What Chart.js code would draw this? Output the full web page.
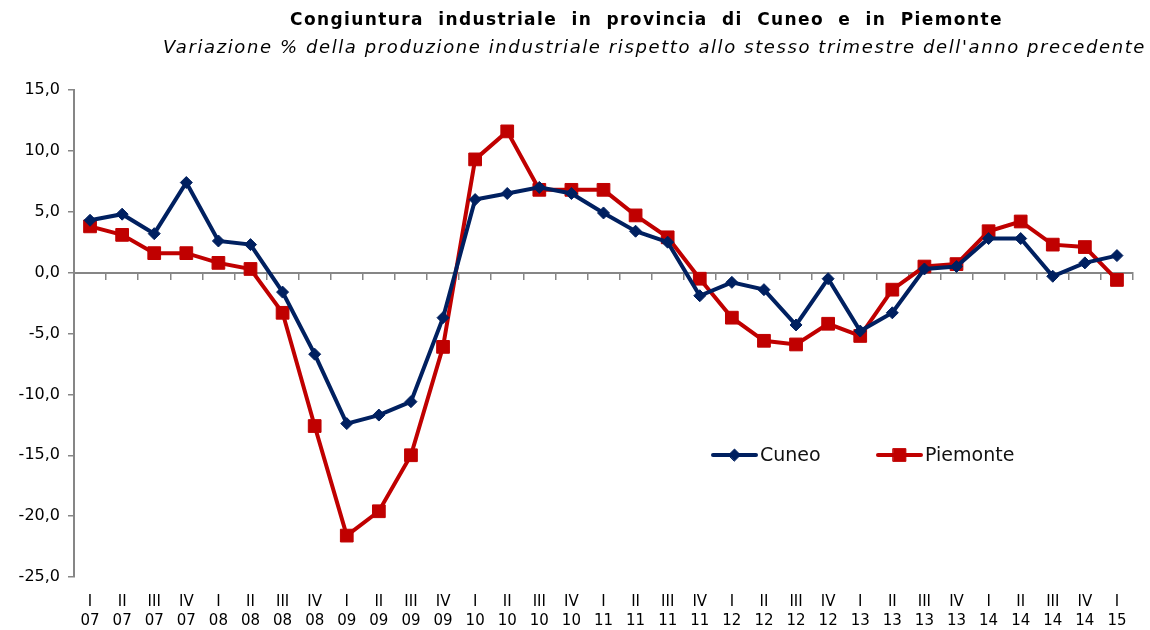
<!DOCTYPE html>
<html>
<head>
<meta charset="utf-8">
<script src="https://cdn.jsdelivr.net/npm/chart.js@4.4.1/dist/chart.umd.min.js"></script>
<style>
  html, body { margin: 0; padding: 0; background: #fff; }
  #wrap { position: relative; width: 1150px; height: 630px; }
  .title {
    position: absolute; left: 290px; top: 9px; white-space: nowrap;
    font: bold 17px "DejaVu Sans", sans-serif; color: #000;
    letter-spacing: 1.4px; word-spacing: 7px;
  }
  .subtitle {
    position: absolute; right: 4px; top: 36px; white-space: nowrap;
    font: italic 18px "DejaVu Sans", sans-serif; color: #000;
    letter-spacing: 1.6px;
  }
</style>
</head>
<body>
<div id="wrap">
  <canvas id="chart" width="1150" height="630"></canvas>
  <div class="title">Congiuntura industriale in provincia di Cuneo e in Piemonte</div>
  <div class="subtitle">Variazione % della produzione industriale rispetto allo stesso trimestre dell'anno precedente</div>
</div>
<script>
// --- dati ---
const quarters = ['I', 'II', 'III', 'IV', 'I', 'II', 'III', 'IV', 'I', 'II', 'III', 'IV',
                  'I', 'II', 'III', 'IV', 'I', 'II', 'III', 'IV', 'I', 'II', 'III', 'IV',
                  'I', 'II', 'III', 'IV', 'I', 'II', 'III', 'IV', 'I'];
const years = ['07', '07', '07', '07', '08', '08', '08', '08', '09', '09', '09', '09',
               '10', '10', '10', '10', '11', '11', '11', '11', '12', '12', '12', '12',
               '13', '13', '13', '13', '14', '14', '14', '14', '15'];

const cuneo = [4.3, 4.8, 3.2, 7.4, 2.6, 2.3, -1.6, -6.7, -12.4, -11.7, -10.6, -3.7,
               6.0, 6.5, 7.0, 6.5, 4.9, 3.4, 2.5, -1.9, -0.8, -1.4, -4.3, -0.5,
               -4.8, -3.3, 0.3, 0.5, 2.8, 2.8, -0.3, 0.8, 1.4];
const piemonte = [3.8, 3.1, 1.6, 1.6, 0.8, 0.3, -3.3, -12.6, -21.6, -19.6, -15.0, -6.1,
                  9.3, 11.6, 6.8, 6.8, 6.8, 4.7, 2.9, -0.5, -3.7, -5.6, -5.9, -4.2,
                  -5.2, -1.4, 0.5, 0.7, 3.4, 4.2, 2.3, 2.1, -0.6];

const yMin = -25, yMax = 15, yStep = 5;

const labels = quarters.map((q, i) => [q, years[i]]);
const axisGrey = '#868686';
const font = '"DejaVu Sans", sans-serif';

// legenda dentro l'area del grafico
const insideLegend = {
  id: 'insideLegend',
  afterDatasetsDraw(chart) {
    const ctx = chart.ctx;
    const y = 455;
    const starts = [713, 878];
    chart.data.datasets.forEach((ds, i) => {
      const x = starts[i];
      ctx.save();
      ctx.strokeStyle = ds.borderColor;
      ctx.fillStyle = ds.backgroundColor;
      ctx.lineWidth = 4;
      ctx.lineCap = 'round';
      ctx.beginPath();
      ctx.moveTo(x, y);
      ctx.lineTo(x + 43, y);
      ctx.stroke();
      ctx.lineWidth = 1;
      Chart.helpers.drawPoint(ctx, { pointStyle: ds.pointStyle, radius: ds.pointRadius, borderWidth: 1 }, x + 21.5, y);
      ctx.fillStyle = '#111';
      ctx.font = '19px ' + font;
      ctx.textBaseline = 'middle';
      ctx.fillText(ds.label, x + 47, y + 1);
      ctx.restore();
    });
  }
};

new Chart(document.getElementById('chart'), {
  type: 'line',
  data: {
    labels,
    datasets: [
      {
        label: 'Cuneo',
        data: cuneo,
        borderColor: '#002060',
        backgroundColor: '#002060',
        borderWidth: 4,
        pointStyle: 'rectRot',
        pointRadius: 6,
        pointBorderWidth: 1,
        tension: 0
      },
      {
        label: 'Piemonte',
        data: piemonte,
        borderColor: '#C00000',
        backgroundColor: '#C00000',
        borderWidth: 4,
        pointStyle: 'rect',
        pointRadius: 9,
        pointBorderWidth: 1,
        tension: 0
      }
    ]
  },
  options: {
    responsive: false,
    animation: false,
    layout: { padding: { left: 0, right: 17, top: 90, bottom: 0 } },
    plugins: {
      legend: { display: false },
      tooltip: { enabled: false }
    },
    scales: {
      x: {
        type: 'category',
        offset: true,
        grid: { display: false, drawTicks: false },
        border: { display: false },
        ticks: {
          autoSkip: false, maxRotation: 0, minRotation: 0,
          padding: 16,
          color: '#000',
          font: { family: font, size: 15, lineHeight: 1.25 }
        },
        afterFit: (s) => { s.height = 53; }
      },
      xz: {
        type: 'category',
        position: { y: 0 },
        offset: true,
        grid: { display: true, offset: true, drawOnChartArea: false, drawTicks: true, tickLength: 6, color: axisGrey, lineWidth: 1.5 },
        border: { display: true, color: axisGrey, width: 2 },
        ticks: { display: false }
      },
      y: {
        min: yMin,
        max: yMax,
        ticks: {
          stepSize: yStep,
          padding: 8,
          color: '#000',
          font: { family: font, size: 16 },
          callback: (v) => v.toFixed(1).replace('.', ',')
        },
        grid: { display: true, drawOnChartArea: false, drawTicks: true, tickLength: 6, color: axisGrey, lineWidth: 1.5 },
        border: { display: true, color: axisGrey, width: 2 },
        afterFit: (s) => { s.width = 74; }
      }
    }
  },
  plugins: [insideLegend]
});
</script>
</body>
</html>
